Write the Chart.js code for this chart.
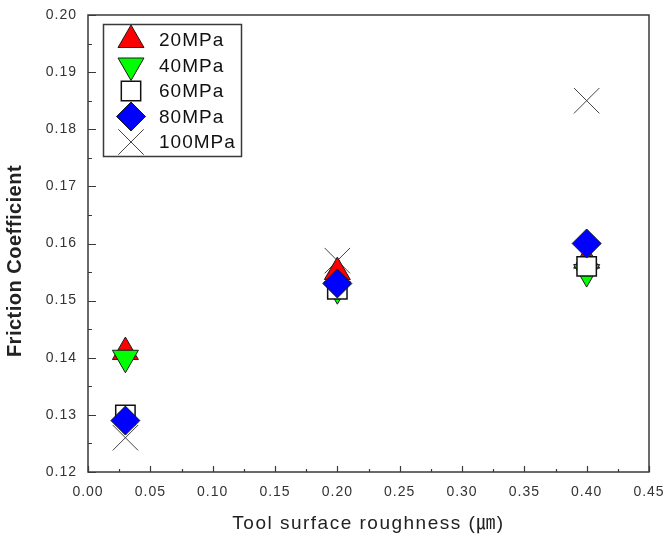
<!DOCTYPE html>
<html>
<head>
<meta charset="utf-8">
<title>Friction Coefficient vs Tool surface roughness</title>
<script src="https://cdn.jsdelivr.net/npm/chart.js@4/dist/chart.umd.min.js"></script>
<style>
  html, body { margin: 0; padding: 0; background: #ffffff; }
  #wrap { width: 665px; height: 544px; position: relative; }
</style>
</head>
<body>
<div id="wrap"><canvas id="chart" width="665" height="544"></canvas></div>
<script>
// Tool surface roughness (µm) for each test
const roughness = [0.03, 0.20, 0.40];

// Friction coefficient per contact pressure
const mu20MPa  = [0.141, 0.155, 0.157];
const mu40MPa  = [0.140, 0.152, 0.155];
const mu60MPa  = [0.130, 0.152, 0.156];
const mu80MPa  = [0.129, 0.153, 0.160];
const mu100MPa = [0.126, 0.157, 0.185];

const seriesNames = ['20MPa', '40MPa', '60MPa', '80MPa', '100MPa'];

// Axis ticks
const xMajorTicks = [0, 0.05, 0.10, 0.15, 0.20, 0.25, 0.30, 0.35, 0.40, 0.45];
const xTickLabels = ['0.00', '0.05', '0.10', '0.15', '0.20', '0.25', '0.30', '0.35', '0.40', '0.45'];
const xMinorTicks = [0.025, 0.075, 0.125, 0.175, 0.225, 0.275, 0.325, 0.375, 0.425];
const yMajorTicks = [0.12, 0.13, 0.14, 0.15, 0.16, 0.17, 0.18, 0.19, 0.20];
const yTickLabels = ['0.12', '0.13', '0.14', '0.15', '0.16', '0.17', '0.18', '0.19', '0.20'];
const yMinorTicks = [0.125, 0.135, 0.145, 0.155, 0.165, 0.175, 0.185, 0.195];

const xTitle = 'Tool surface roughness (\u339B)';
const yTitle = 'Friction Coefficient';

const FONT = 'Arial, "Liberation Sans", "Noto Sans CJK KR", sans-serif';
const INK = '#333333';

function points(values) {
  return roughness.map((x, i) => ({ x: x, y: values[i] }));
}

// Marker styles shared by the plot and the legend
const markerStyles = [
  { pointStyle: 'triangle', radius: 15,   rotation: 0,   fill: '#ff0000', stroke: '#1a1a1a', width: 1 },
  { pointStyle: 'triangle', radius: 15,   rotation: 180, fill: '#00ff00', stroke: '#1a1a1a', width: 1 },
  { pointStyle: 'rect',     radius: 13.7, rotation: 0,   fill: '#ffffff', stroke: '#111111', width: 1.5 },
  { pointStyle: 'rectRot',  radius: 14.5, rotation: 0,   fill: '#0000ff', stroke: '#1a1a1a', width: 1 },
  { pointStyle: 'crossRot', radius: 18,   rotation: 0,   fill: 'rgba(0,0,0,0)', stroke: '#444444', width: 1 }
];
// Draw stacking: 80MPa on top, 100MPa at the bottom
const stackOrder = [3, 2, 1, 0, 4];
const seriesValues = [mu20MPa, mu40MPa, mu60MPa, mu80MPa, mu100MPa];

const datasets = seriesNames.map((name, i) => {
  const m = markerStyles[i];
  return {
    label: name,
    data: points(seriesValues[i]),
    showLine: false,
    pointStyle: m.pointStyle,
    pointRadius: m.radius,
    pointRotation: m.rotation,
    pointBackgroundColor: m.fill,
    pointBorderColor: m.stroke,
    pointBorderWidth: m.width,
    backgroundColor: m.fill,
    borderColor: m.stroke,
    order: stackOrder[i]
  };
});

// Fallback marker painter if helpers are not exposed
function paintMarker(ctx, m, x, y) {
  if (Chart.helpers && Chart.helpers.drawPoint) {
    Chart.helpers.drawPoint(ctx, { pointStyle: m.pointStyle, rotation: m.rotation, radius: m.radius, borderWidth: m.width }, x, y);
    return;
  }
  ctx.beginPath();
  const r = m.radius;
  if (m.pointStyle === 'triangle') {
    const s = m.rotation === 180 ? -1 : 1;
    ctx.moveTo(x, y - s * r);
    ctx.lineTo(x + r * Math.sqrt(3) / 2, y + s * r / 2);
    ctx.lineTo(x - r * Math.sqrt(3) / 2, y + s * r / 2);
    ctx.closePath();
  } else if (m.pointStyle === 'rect') {
    const h = r * Math.SQRT1_2;
    ctx.rect(x - h, y - h, 2 * h, 2 * h);
  } else if (m.pointStyle === 'rectRot') {
    ctx.moveTo(x, y - r); ctx.lineTo(x + r, y); ctx.lineTo(x, y + r); ctx.lineTo(x - r, y); ctx.closePath();
  } else {
    const h = r * Math.SQRT1_2;
    ctx.moveTo(x - h, y - h); ctx.lineTo(x + h, y + h);
    ctx.moveTo(x + h, y - h); ctx.lineTo(x - h, y + h);
  }
  ctx.fill();
  ctx.stroke();
}

// Frame, inward tick marks, axis titles and the boxed legend
const decorations = {
  id: 'decorations',
  beforeDraw(chart) {
    chart.ctx.letterSpacing = '1px';
  },
  beforeDatasetsDraw(chart) {
    const ctx = chart.ctx;
    const a = chart.chartArea;
    const xs = chart.scales.x, ys = chart.scales.y;
    ctx.save();
    ctx.strokeStyle = '#3a3a3a';
    ctx.lineWidth = 1.5;
    ctx.strokeRect(a.left, a.top, a.right - a.left, a.bottom - a.top);

    ctx.lineWidth = 1.2;
    ctx.beginPath();
    xMajorTicks.forEach(v => {
      const px = Math.round(xs.getPixelForValue(v)) + 0.5;
      ctx.moveTo(px, a.bottom); ctx.lineTo(px, a.bottom - 6);
    });
    xMinorTicks.forEach(v => {
      const px = Math.round(xs.getPixelForValue(v)) + 0.5;
      ctx.moveTo(px, a.bottom); ctx.lineTo(px, a.bottom - 3);
    });
    yMajorTicks.forEach(v => {
      const py = Math.round(ys.getPixelForValue(v)) + 0.5;
      ctx.moveTo(a.left, py); ctx.lineTo(a.left + 8, py);
    });
    yMinorTicks.forEach(v => {
      const py = Math.round(ys.getPixelForValue(v)) + 0.5;
      ctx.moveTo(a.left, py); ctx.lineTo(a.left + 4, py);
    });
    ctx.stroke();
    ctx.restore();
  },
  afterDraw(chart) {
    const ctx = chart.ctx;
    const a = chart.chartArea;
    ctx.save();

    // Axis titles
    ctx.fillStyle = '#222222';
    ctx.textAlign = 'center';
    ctx.textBaseline = 'middle';
    ctx.letterSpacing = '1.5px';
    ctx.font = '19px ' + FONT;
    ctx.fillText(xTitle, (a.left + a.right) / 2, 524);

    ctx.save();
    ctx.translate(15, 261);
    ctx.rotate(-Math.PI / 2);
    ctx.letterSpacing = '0.5px';
    ctx.font = 'bold 20px ' + FONT;
    ctx.fillText(yTitle, 0, 0);
    ctx.restore();

    // Legend box
    const box = { left: 103.5, top: 24.5, width: 138, height: 132 };
    ctx.fillStyle = '#ffffff';
    ctx.fillRect(box.left, box.top, box.width, box.height);
    ctx.strokeStyle = '#3a3a3a';
    ctx.lineWidth = 1.5;
    ctx.strokeRect(box.left, box.top, box.width, box.height);

    const rowY = [40, 65.5, 91, 116.5, 142];
    const markerX = 131;
    seriesNames.forEach((name, i) => {
      const m = markerStyles[i];
      ctx.save();
      ctx.letterSpacing = '0px';
      ctx.fillStyle = m.fill;
      ctx.strokeStyle = m.stroke;
      ctx.lineWidth = m.width;
      paintMarker(ctx, m, markerX, rowY[i]);
      ctx.restore();

      ctx.fillStyle = '#111111';
      ctx.textAlign = 'left';
      ctx.textBaseline = 'middle';
      ctx.letterSpacing = '1px';
      ctx.font = '19px ' + FONT;
      ctx.fillText(name, 159, rowY[i] + 1);
    });
    ctx.restore();
  }
};

Chart.defaults.font.family = FONT;
Chart.defaults.color = INK;

new Chart(document.getElementById('chart'), {
  type: 'scatter',
  data: { datasets: datasets },
  plugins: [decorations],
  options: {
    responsive: false,
    animation: false,
    events: [],
    devicePixelRatio: 1,
    layout: { autoPadding: false, padding: { top: 15, right: 16, left: 0, bottom: 0 } },
    plugins: {
      legend: { display: false },
      tooltip: { enabled: false }
    },
    scales: {
      x: {
        type: 'linear',
        min: 0,
        max: 0.45,
        grid: { display: false, drawTicks: false },
        border: { display: false },
        afterBuildTicks: s => { s.ticks = xMajorTicks.map(v => ({ value: v })); },
        afterFit: s => { s.height = 72; s.paddingLeft = 0; s.paddingRight = 0; },
        ticks: {
          padding: 12,
          maxRotation: 0,
          autoSkip: false,
          color: INK,
          font: { size: 14 },
          callback: (v, i) => xTickLabels[i]
        }
      },
      y: {
        type: 'linear',
        min: 0.12,
        max: 0.20,
        grid: { display: false, drawTicks: false },
        border: { display: false },
        afterBuildTicks: s => { s.ticks = yMajorTicks.map(v => ({ value: v })); },
        afterFit: s => { s.width = 88; s.paddingTop = 0; s.paddingBottom = 0; },
        ticks: {
          padding: 11,
          autoSkip: false,
          color: INK,
          font: { size: 14 },
          callback: (v, i) => yTickLabels[i]
        }
      }
    }
  }
});
</script>
</body>
</html>
